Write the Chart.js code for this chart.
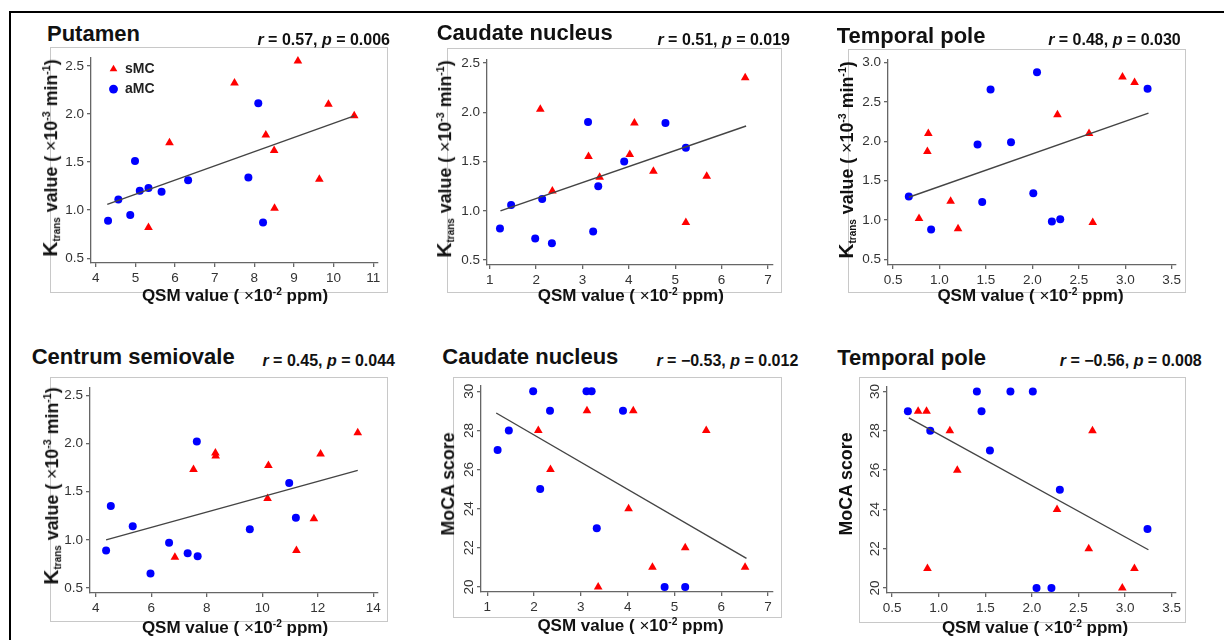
<!DOCTYPE html>
<html>
<head>
<meta charset="utf-8">
<script src="https://cdn.jsdelivr.net/npm/chart.js@4.4.1/dist/chart.umd.min.js"></script>
<style>
  body { margin: 0; width: 1224px; height: 640px; background: #fff; overflow: hidden; position: relative;
         font-family: "Liberation Sans", Arial, Helvetica, sans-serif; }
  .frame { position: absolute; left: 9px; top: 11px; width: 1300px; height: 700px;
           border-left: 2px solid #000; border-top: 2px solid #000; }
  .box { position: absolute; border: 1.5px solid #c8c8c8; box-sizing: border-box; }
  .wrap { position: absolute; }
  .lbl { position: absolute; white-space: nowrap; color: #111; font-weight: bold; line-height: 1; }
  .title { font-size: 22px; }
  .stats { font-size: 16px; }
  .axt { font-size: 17px; }
  .axt.rot { font-size: 17.8px; }
  .axt sup { font-size: 0.6em; vertical-align: 0.62em; line-height: 0; }
  .axt .times { font-weight: normal; }
  .axt .k { font-size: 21px; line-height: 0; }
  .axt .k sub { font-size: 10px; vertical-align: -0.25em; line-height: 0; }
</style>
</head>
<body>
<div class="frame"></div>
<script>
// ---- data ----
// Putamen
const putamenQsmS    = [9.10, 7.50, 9.87, 10.52, 8.29, 5.86, 8.50, 9.64, 8.51, 5.33];
const putamenKtransS = [2.55, 2.32, 2.10, 1.98, 1.78, 1.70, 1.62, 1.32, 1.02, 0.82];
const putamenQsmA    = [8.10, 4.99, 7.85, 6.33, 5.33, 5.11, 5.66, 4.57, 4.87, 4.31, 8.22];
const putamenKtransA = [2.11, 1.51, 1.34, 1.31, 1.23, 1.20, 1.19, 1.11, 0.95, 0.89, 0.87];
const putamenFitQsm    = [4.29, 10.52];
const putamenFitKtrans = [1.06, 1.98];

// Caudate nucleus
const caudateQsmS    = [6.51, 2.09, 4.12, 4.02, 3.13, 4.53, 3.37, 5.68, 2.35, 5.23];
const caudateKtransS = [2.35, 2.03, 1.89, 1.57, 1.55, 1.40, 1.34, 1.35, 1.20, 0.88];
const caudateMocaS   = [21, 28, 29, 24, 29, 21, 20, 28, 26, 22];
const caudateQsmA    = [3.12, 4.79, 5.23, 3.90, 3.34, 2.13, 1.46, 1.22, 1.98, 3.23, 2.34];
const caudateKtransA = [1.90, 1.89, 1.64, 1.50, 1.25, 1.12, 1.06, 0.82, 0.72, 0.79, 0.67];
const caudateMocaA   = [30, 20, 20, 29, 23, 25, 28, 27, 30, 30, 29];
const caudateFitQsmK   = [1.23, 6.53];
const caudateFitKtrans = [1.00, 1.86];
const caudateFitQsmM   = [1.19, 6.54];
const caudateFitMoca   = [28.89, 21.46];

// Temporal pole
const temporalQsmS    = [2.97, 3.10, 2.27, 0.88, 2.61, 0.87, 1.12, 0.78, 1.20, 2.65];
const temporalKtransS = [2.82, 2.75, 2.34, 2.10, 2.10, 1.87, 1.24, 1.02, 0.89, 0.97];
const temporalMocaS   = [20, 21, 24, 21, 22, 29, 28, 29, 26, 28];
const temporalQsmA    = [2.05, 1.55, 3.24, 1.41, 1.77, 2.01, 0.67, 1.46, 2.21, 2.30, 0.91];
const temporalKtransA = [2.88, 2.66, 2.67, 1.96, 1.99, 1.34, 1.30, 1.23, 0.98, 1.01, 0.88];
const temporalMocaA   = [20, 27, 23, 30, 30, 30, 29, 29, 20, 25, 28];
const temporalFitQsmK   = [0.67, 3.25];
const temporalFitKtrans = [1.29, 2.36];
const temporalFitQsmM   = [0.68, 3.25];
const temporalFitMoca   = [28.66, 21.95];

// Centrum semiovale
const centrumQsmS    = [13.44, 12.10, 8.31, 8.32, 10.22, 7.52, 10.19, 11.86, 11.23, 6.85];
const centrumKtransS = [2.11, 1.89, 1.90, 1.87, 1.77, 1.73, 1.43, 1.22, 0.89, 0.82];
const centrumQsmA    = [7.64, 10.97, 4.54, 5.33, 11.21, 9.55, 6.64, 4.37, 7.31, 7.67, 5.97];
const centrumKtransA = [2.02, 1.59, 1.35, 1.14, 1.23, 1.11, 0.97, 0.89, 0.86, 0.83, 0.65];
const centrumFitQsm    = [4.37, 13.44];
const centrumFitKtrans = [1.00, 1.72];

// tick labels
const putamenXTicks  = [4, 5, 6, 7, 8, 9, 10, 11];
const caudateXTicks  = [1, 2, 3, 4, 5, 6, 7];
const temporalXTicks = [0.5, 1.0, 1.5, 2.0, 2.5, 3.0, 3.5];
const centrumXTicks  = [4, 6, 8, 10, 12, 14];
const ktransTicks    = [0.5, 1.0, 1.5, 2.0, 2.5];
const ktransTicks3   = [0.5, 1.0, 1.5, 2.0, 2.5, 3.0];
const mocaTicks      = [20, 22, 24, 26, 28, 30];

const groupNames = ['sMC', 'aMC'];

// ---- text ----
const qsmTitle = 'QSM value ( <span class="times">×</span>10<sup>-2</sup> ppm)';
const ktransTitle = '<span class="k">K<sub>trans</sub></span> value ( <span class="times">×</span>10<sup>-3</sup> min<sup>-1</sup>)';
const mocaTitle = 'MoCA score';

const FONT = '"Liberation Sans", Arial, Helvetica, sans-serif';

const panels = [
  { title: 'Putamen', r: '0.57', p: '0.006', yTitle: ktransTitle, legend: true,
    sx: putamenQsmS, sy: putamenKtransS, ax: putamenQsmA, ay: putamenKtransA, fx: putamenFitQsm, fy: putamenFitKtrans,
    xTicks: putamenXTicks, yTicks: ktransTicks, xDec: 0, yDec: 1, xr: [3.88, 11.12], yr: [0.45, 2.58],
    box: [50, 47, 388, 293], area: [91, 57, 378, 263],
    tPos: [47, 42], sPos: [390, 45], xtPos: [235, 301.7], ytPos: [52.4, 158] },
  { title: 'Caudate nucleus', r: '0.51', p: '0.019', yTitle: ktransTitle,
    sx: caudateQsmS, sy: caudateKtransS, ax: caudateQsmA, ay: caudateKtransA, fx: caudateFitQsmK, fy: caudateFitKtrans,
    xTicks: caudateXTicks, yTicks: ktransTicks, xDec: 0, yDec: 1, xr: [0.94, 7.11], yr: [0.45, 2.53],
    box: [447, 48, 782, 293], area: [487, 60, 773, 265],
    tPos: [436.7, 40.7], sPos: [790, 45], xtPos: [630.8, 301.7], ytPos: [446, 159] },
  { title: 'Temporal pole', r: '0.48', p: '0.030', yTitle: ktransTitle,
    sx: temporalQsmS, sy: temporalKtransS, ax: temporalQsmA, ay: temporalKtransA, fx: temporalFitQsmK, fy: temporalFitKtrans,
    xTicks: temporalXTicks, yTicks: ktransTicks3, xDec: 1, yDec: 1, xr: [0.446, 3.546], yr: [0.428, 3.034],
    box: [848, 49, 1186, 293], area: [888, 60, 1176, 265],
    tPos: [836.7, 43.3], sPos: [1180.7, 45], xtPos: [1030.5, 301.7], ytPos: [847.5, 160] },
  { title: 'Centrum semiovale', r: '0.45', p: '0.044', yTitle: ktransTitle,
    sx: centrumQsmS, sy: centrumKtransS, ax: centrumQsmA, ay: centrumKtransA, fx: centrumFitQsm, fy: centrumFitKtrans,
    xTicks: centrumXTicks, yTicks: ktransTicks, xDec: 0, yDec: 1, xr: [3.79, 14.17], yr: [0.449, 2.574],
    box: [50, 377, 388, 622], area: [90, 385, 378, 593],
    tPos: [31.7, 365], sPos: [395, 366.7], xtPos: [235, 633.3], ytPos: [52.5, 486] },
  { title: 'Caudate nucleus', r: '\u22120.53', p: '0.012', yTitle: mocaTitle, rotY: true,
    sx: caudateQsmS, sy: caudateMocaS, ax: caudateQsmA, ay: caudateMocaA, fx: caudateFitQsmM, fy: caudateFitMoca,
    xTicks: caudateXTicks, yTicks: mocaTicks, xDec: 0, yDec: 0, xr: [0.865, 7.107], yr: [19.74, 30.27],
    box: [453, 377, 782, 618], area: [481, 386, 773, 592],
    tPos: [442.3, 365], sPos: [798.3, 366.7], xtPos: [630.5, 631.7], ytPos: [449, 484] },
  { title: 'Temporal pole', r: '\u22120.56', p: '0.008', yTitle: mocaTitle, rotY: true,
    sx: temporalQsmS, sy: temporalMocaS, ax: temporalQsmA, ay: temporalMocaA, fx: temporalFitQsmM, fy: temporalFitMoca,
    xTicks: temporalXTicks, yTicks: mocaTicks, xDec: 1, yDec: 0, xr: [0.446, 3.546], yr: [19.75, 30.23],
    box: [859, 377, 1186, 623], area: [887, 387, 1176, 593],
    tPos: [837.3, 365.7], sPos: [1201.7, 366.7], xtPos: [1035, 633.3], ytPos: [847, 484] }
];

// moves the in-plot legend to where the figure has it
const legendNudge = {
  id: 'legendNudge',
  afterLayout(chart, args, opts) {
    const lg = chart.legend;
    if (!lg || opts.dx === undefined) return;
    lg.left = chart.chartArea.left + opts.dx;
    lg.top = chart.chartArea.top + opts.dy;
  }
};

function addLabel(cls, html, css) {
  const d = document.createElement('div');
  d.className = 'lbl ' + cls;
  d.innerHTML = html;
  Object.assign(d.style, css);
  document.body.appendChild(d);
  return d;
}

function pts(xs, ys) {
  return xs.map((x, i) => ({ x: x, y: ys[i] }));
}

panels.forEach(p => {
  const [bl, bt, br, bb] = p.box;
  const [al, at, ar, ab] = p.area;
  const w = br - bl, h = bb - bt;

  const box = document.createElement('div');
  box.className = 'box';
  Object.assign(box.style, { left: bl + 'px', top: bt + 'px', width: w + 'px', height: h + 'px' });
  document.body.appendChild(box);

  const wrap = document.createElement('div');
  wrap.className = 'wrap';
  Object.assign(wrap.style, { left: bl + 'px', top: bt + 'px', width: w + 'px', height: h + 'px' });
  const canvas = document.createElement('canvas');
  canvas.width = w; canvas.height = h;
  wrap.appendChild(canvas);
  document.body.appendChild(wrap);

  const axisGrid = { display: true, drawOnChartArea: false, drawTicks: true, tickLength: 4, color: '#666', lineWidth: 1.3 };
  const axisBorder = { display: true, color: '#666', width: 1.3 };
  const tickFont = { family: FONT, size: 13.5 };

  new Chart(canvas, {
    type: 'scatter',
    data: {
      datasets: [
        { type: 'line', label: 'fit', data: pts(p.fx, p.fy), borderColor: '#444', borderWidth: 1.4,
          pointRadius: 0, fill: false, tension: 0 },
        { label: groupNames[0], data: pts(p.sx, p.sy), pointStyle: 'triangle', pointRadius: 5,
          backgroundColor: '#ff0000', borderColor: '#ff0000', borderWidth: 0 },
        { label: groupNames[1], data: pts(p.ax, p.ay), pointStyle: 'circle', pointRadius: 4,
          backgroundColor: '#0000ff', borderColor: '#0000ff', borderWidth: 0 }
      ]
    },
    options: {
      responsive: false,
      animation: false,
      events: [],
      clip: false,
      layout: { padding: { left: 0, top: at - bt, right: br - ar, bottom: 0 } },
      scales: {
        x: {
          type: 'linear', min: p.xr[0], max: p.xr[1],
          afterBuildTicks: s => { s.ticks = p.xTicks.map(v => ({ value: v })); },
          afterFit: s => { s.height = bb - ab; },
          grid: axisGrid, border: axisBorder,
          ticks: { color: '#333', font: tickFont, padding: 3, maxRotation: 0, autoSkip: false,
                   callback: v => Number(v).toFixed(p.xDec) }
        },
        y: {
          type: 'linear', min: p.yr[0], max: p.yr[1],
          afterBuildTicks: s => { s.ticks = p.yTicks.map(v => ({ value: v })); },
          afterFit: s => { s.width = al - bl; },
          grid: axisGrid, border: axisBorder,
          ticks: p.rotY
            ? { color: '#333', font: tickFont, padding: 0, minRotation: 90, maxRotation: 90, crossAlign: 'center',
                autoSkip: false, callback: v => Number(v).toFixed(p.yDec) }
            : { color: '#333', font: tickFont, padding: 3, autoSkip: false,
                callback: v => Number(v).toFixed(p.yDec) }
        }
      },
      plugins: {
        legend: {
          display: !!p.legend,
          position: 'chartArea',
          align: 'start',
          labels: {
            usePointStyle: true, boxWidth: 9, boxHeight: 6.3, padding: 6, color: '#222',
            font: { family: FONT, size: 14, weight: 'bold' },
            filter: item => item.datasetIndex > 0
          }
        },
        legendNudge: p.legend ? { dx: 12, dy: -2 } : {},
        tooltip: { enabled: false }
      }
    },
    plugins: [legendNudge]
  });

  // panel title, statistics, axis titles
  addLabel('title', p.title, { left: p.tPos[0] + 'px', top: (p.tPos[1] - 18.6) + 'px' });
  addLabel('stats', '<i>r</i> = ' + p.r + ', <i>p</i> = ' + p.p,
           { right: (1224 - p.sPos[0]) + 'px', top: (p.sPos[1] - 13.5) + 'px' });
  addLabel('axt', qsmTitle, { left: p.xtPos[0] + 'px', top: (p.xtPos[1] - 14.4) + 'px', transform: 'translateX(-50%)' });
  addLabel('axt rot', p.yTitle, { left: p.ytPos[0] + 'px', top: p.ytPos[1] + 'px',
                                  transform: 'translate(-50%, -50%) rotate(-90deg)' });
});
</script>
</body>
</html>
